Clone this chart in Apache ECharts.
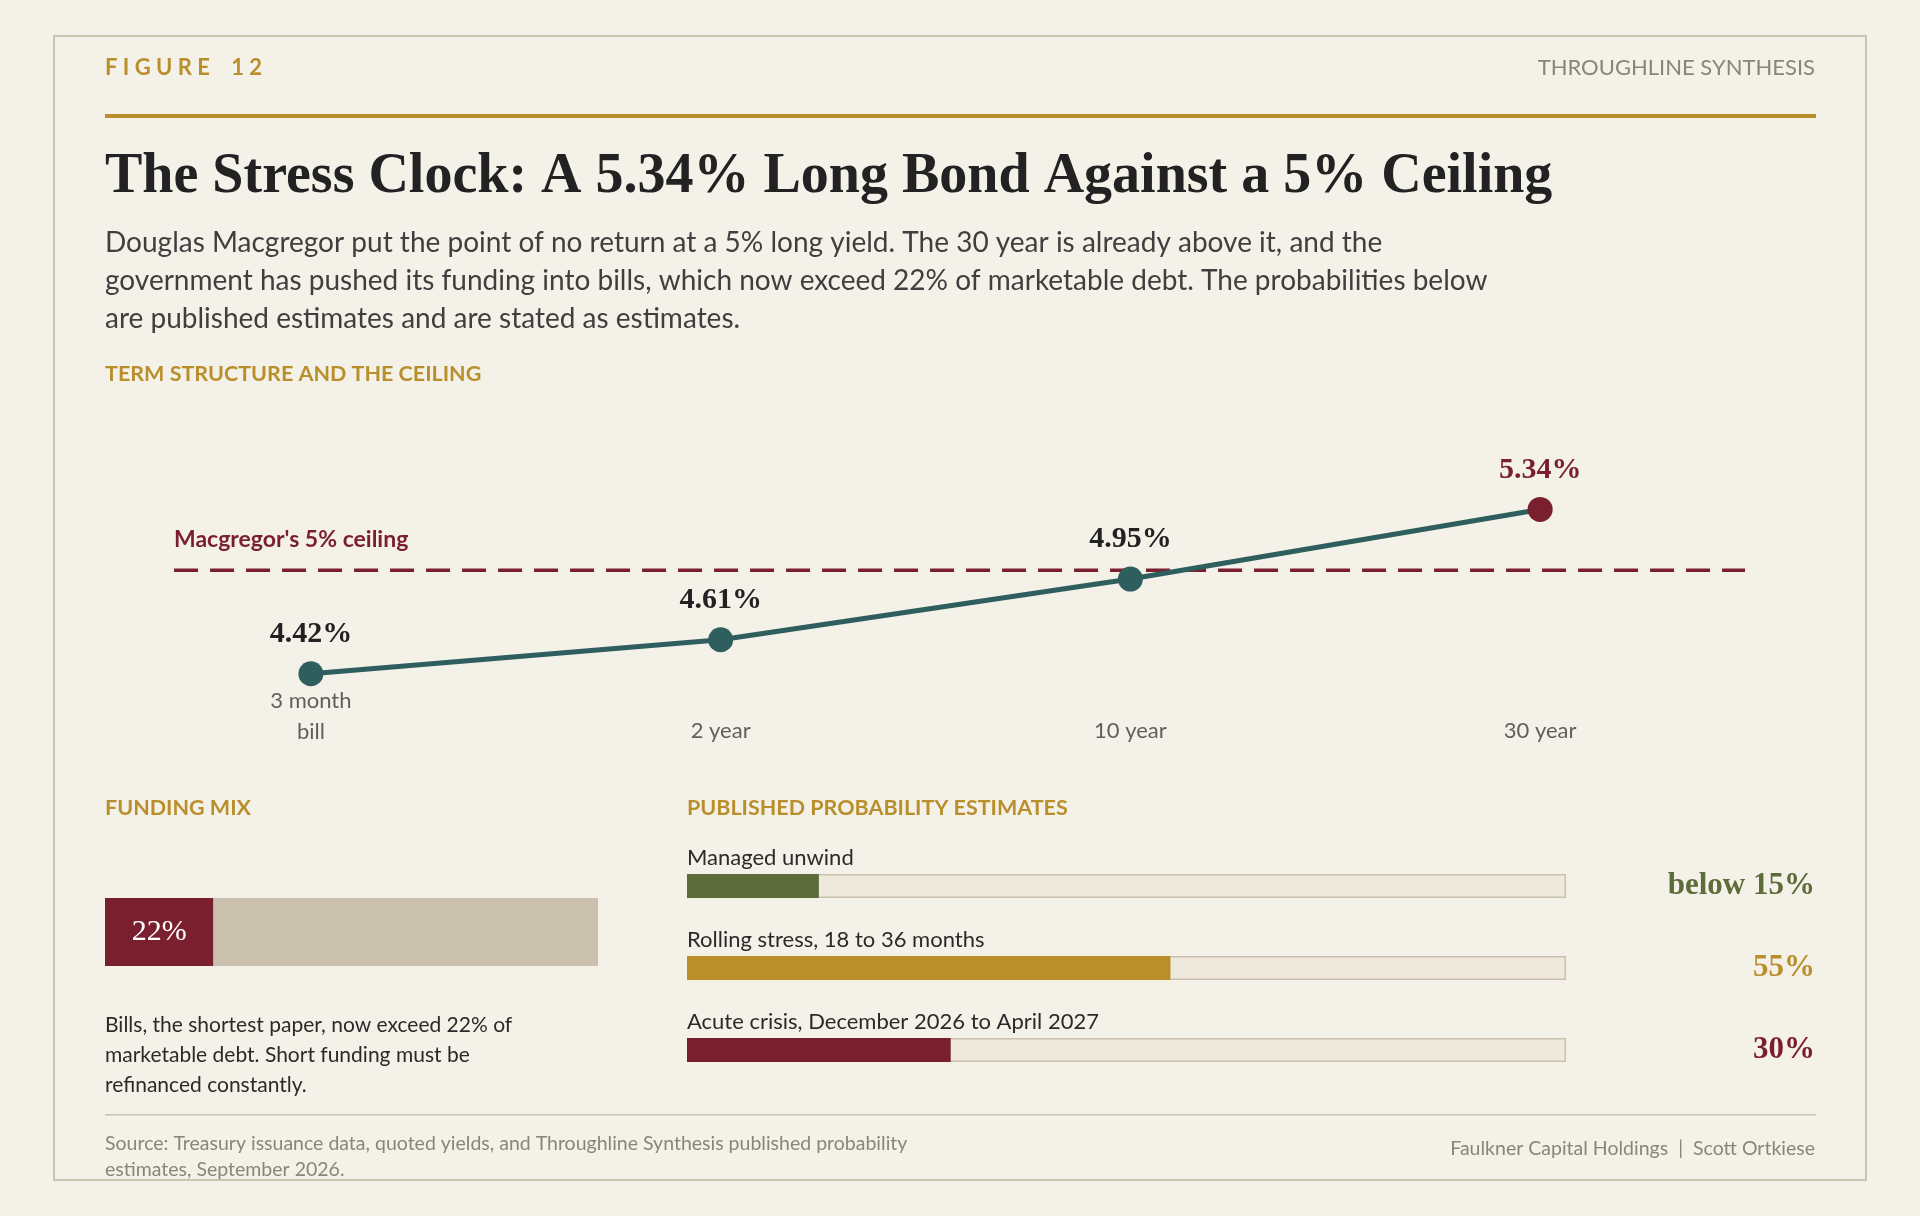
<!DOCTYPE html>
<html><head><meta charset="utf-8">
<script src="https://cdn.jsdelivr.net/npm/echarts@6/dist/echarts.min.js"></script>
<style>html,body{margin:0;padding:0;background:#f4f1e8}#c{width:1920px;height:1216px}</style>
</head><body><div id="c"></div>
<script>
const tenors = ['3 month\nbill','2 year','10 year','30 year'];
const yields = [4.42, 4.61, 4.95, 5.34];
const ceiling = 5;
const fundingBills = 22;
const probLabels = ['Managed unwind','Rolling stress, 18 to 36 months','Acute crisis, December 2026 to April 2027'];
const probValues = [15, 55, 30];
const probText = ['below 15%','55%','30%'];
const probColors = ['#5e6b3a','#b98f2c','#7a1f2e'];

const GOLD='#b98f2c', MAROON='#7a1f2e', TEAL='#2e5e5e', INK='#222', SANS='Lato', SERIF='Liberation Serif';
const chart = echarts.init(document.getElementById('c'));
const txt=(x,y,t,s)=>({type:'text',left:x,top:y,style:Object.assign({text:t,font:'19px '+SANS,fill:INK},s)});
chart.setOption({
  backgroundColor:'#f4f1e8',
  animation:false,
  graphic:[
    {type:'rect',shape:{x:54,y:36,width:1812,height:1144},style:{fill:'none',stroke:'#c9c4b0',lineWidth:2}},
    txt(105,57,'F I G U R E    1 2',{font:'bold 22px '+SANS,fill:GOLD}),
    {type:'text',right:105,top:57,style:{text:'THROUGHLINE SYNTHESIS',font:'22px '+SANS,fill:'#8a8577'}},
    {type:'rect',shape:{x:105,y:114,width:1711,height:4},style:{fill:GOLD}},
    txt(105,150,'The Stress Clock: A 5.34% Long Bond Against a 5% Ceiling',{font:'bold 56px '+SERIF,fill:INK}),
    txt(105,224,'Douglas Macgregor put the point of no return at a 5% long yield. The 30 year is already above it, and the\ngovernment has pushed its funding into bills, which now exceed 22% of marketable debt. The probabilities below\nare published estimates and are stated as estimates.',{font:'28px '+SANS,fill:'#3f3f3f',lineHeight:38}),
    txt(105,363,'TERM STRUCTURE AND THE CEILING',{font:'bold 21.5px '+SANS,fill:GOLD}),
    txt(174,528,"Macgregor's 5% ceiling",{font:'bold 23px '+SANS,fill:MAROON}),
    txt(105,797,'FUNDING MIX',{font:'bold 21.5px '+SANS,fill:GOLD}),
    txt(687,797,'PUBLISHED PROBABILITY ESTIMATES',{font:'bold 21.5px '+SANS,fill:GOLD}),
    txt(105,1010,'Bills, the shortest paper, now exceed 22% of\nmarketable debt. Short funding must be\nrefinanced constantly.',{font:'21px '+SANS,fill:'#2a2a2a',lineHeight:30}),
    {type:'rect',shape:{x:105,y:1114,width:1711,height:1.5},style:{fill:'#c9c4b0'}},
    txt(105,1131,'Source: Treasury issuance data, quoted yields, and Throughline Synthesis published probability\nestimates, September 2026.',{font:'19.5px '+SANS,fill:'#8a8577',lineHeight:26}),
    {type:'text',right:105,top:1139,style:{text:'Faulkner Capital Holdings  |  Scott Ortkiese',font:'19.5px '+SANS,fill:'#8a8577'}}
  ],
  grid:[
    {left:147,width:1639,top:463,height:250},
    {left:105,width:493,top:898,height:68},
    {left:687,width:879,top:845,height:246}
  ],
  xAxis:[
    {gridIndex:0,type:'value',min:-0.4,max:3.6,show:false},
    {gridIndex:1,type:'value',min:0,max:100,show:false},
    {gridIndex:2,type:'value',min:0,max:100,show:false}
  ],
  yAxis:[
    {gridIndex:0,type:'value',min:4.2,max:5.6,show:false},
    {gridIndex:1,type:'category',data:['bills'],show:false},
    {gridIndex:2,type:'category',data:probLabels,inverse:true,show:false}
  ],
  series:[
    {type:'line',xAxisIndex:0,yAxisIndex:0,data:[[-0.334,ceiling],[3.5,ceiling]],symbol:'none',
     lineStyle:{color:MAROON,width:3.5,type:[24,12]},z:1},
    {type:'line',xAxisIndex:0,yAxisIndex:0,z:3,
     data:yields.map((v,i)=>({value:[i,v],itemStyle:{color:i===3?MAROON:TEAL},
       label:{color:i===3?MAROON:INK}})),
     symbol:'circle',symbolSize:25,lineStyle:{color:TEAL,width:5},itemStyle:{color:TEAL},
     label:{show:true,position:'top',distance:12,formatter:p=>p.value[1].toFixed(2)+'%',fontSize:30,fontWeight:'bold',fontFamily:SERIF}},
    {type:'scatter',xAxisIndex:0,yAxisIndex:0,symbolSize:0,silent:true,
     data:tenors.map((t,i)=>({value:[i,4.2],name:t,label:i===0?{offset:[0,-30]}:{}})),
     label:{show:true,position:'bottom',distance:2,formatter:p=>p.name,fontSize:22,fontFamily:SANS,color:'#3a3a3a',lineHeight:31}},
    {type:'bar',xAxisIndex:1,yAxisIndex:1,stack:'f',data:[fundingBills],barWidth:68,itemStyle:{color:MAROON},
     label:{show:true,position:'inside',formatter:'{c}%',fontSize:30,fontFamily:SERIF,color:'#fff'}},
    {type:'bar',xAxisIndex:1,yAxisIndex:1,stack:'f',data:[100-fundingBills],barWidth:68,itemStyle:{color:'#c9c1ae'}},
    {type:'bar',xAxisIndex:2,yAxisIndex:2,barWidth:24,barGap:'-100%',
     itemStyle:{color:'#efe8dc',borderColor:'#c9c1ae',borderWidth:1.5},
     label:{show:true,position:[1128,12],align:'right',verticalAlign:'middle',fontSize:31,fontWeight:'bold',fontFamily:SERIF,
       formatter:p=>probText[p.dataIndex]},
     data:probValues.map((v,i)=>({value:100,label:{color:probColors[i]}}))},
    {type:'bar',xAxisIndex:2,yAxisIndex:2,barWidth:24,barGap:'-100%',
     data:probValues.map((v,i)=>({value:v,itemStyle:{color:probColors[i]}})),
     label:{show:true,position:[0,-5],align:'left',verticalAlign:'bottom',fontSize:22,fontFamily:SANS,color:'#2a2a2a',
       formatter:p=>probLabels[p.dataIndex]}}
  ]
});
</script></body></html>
